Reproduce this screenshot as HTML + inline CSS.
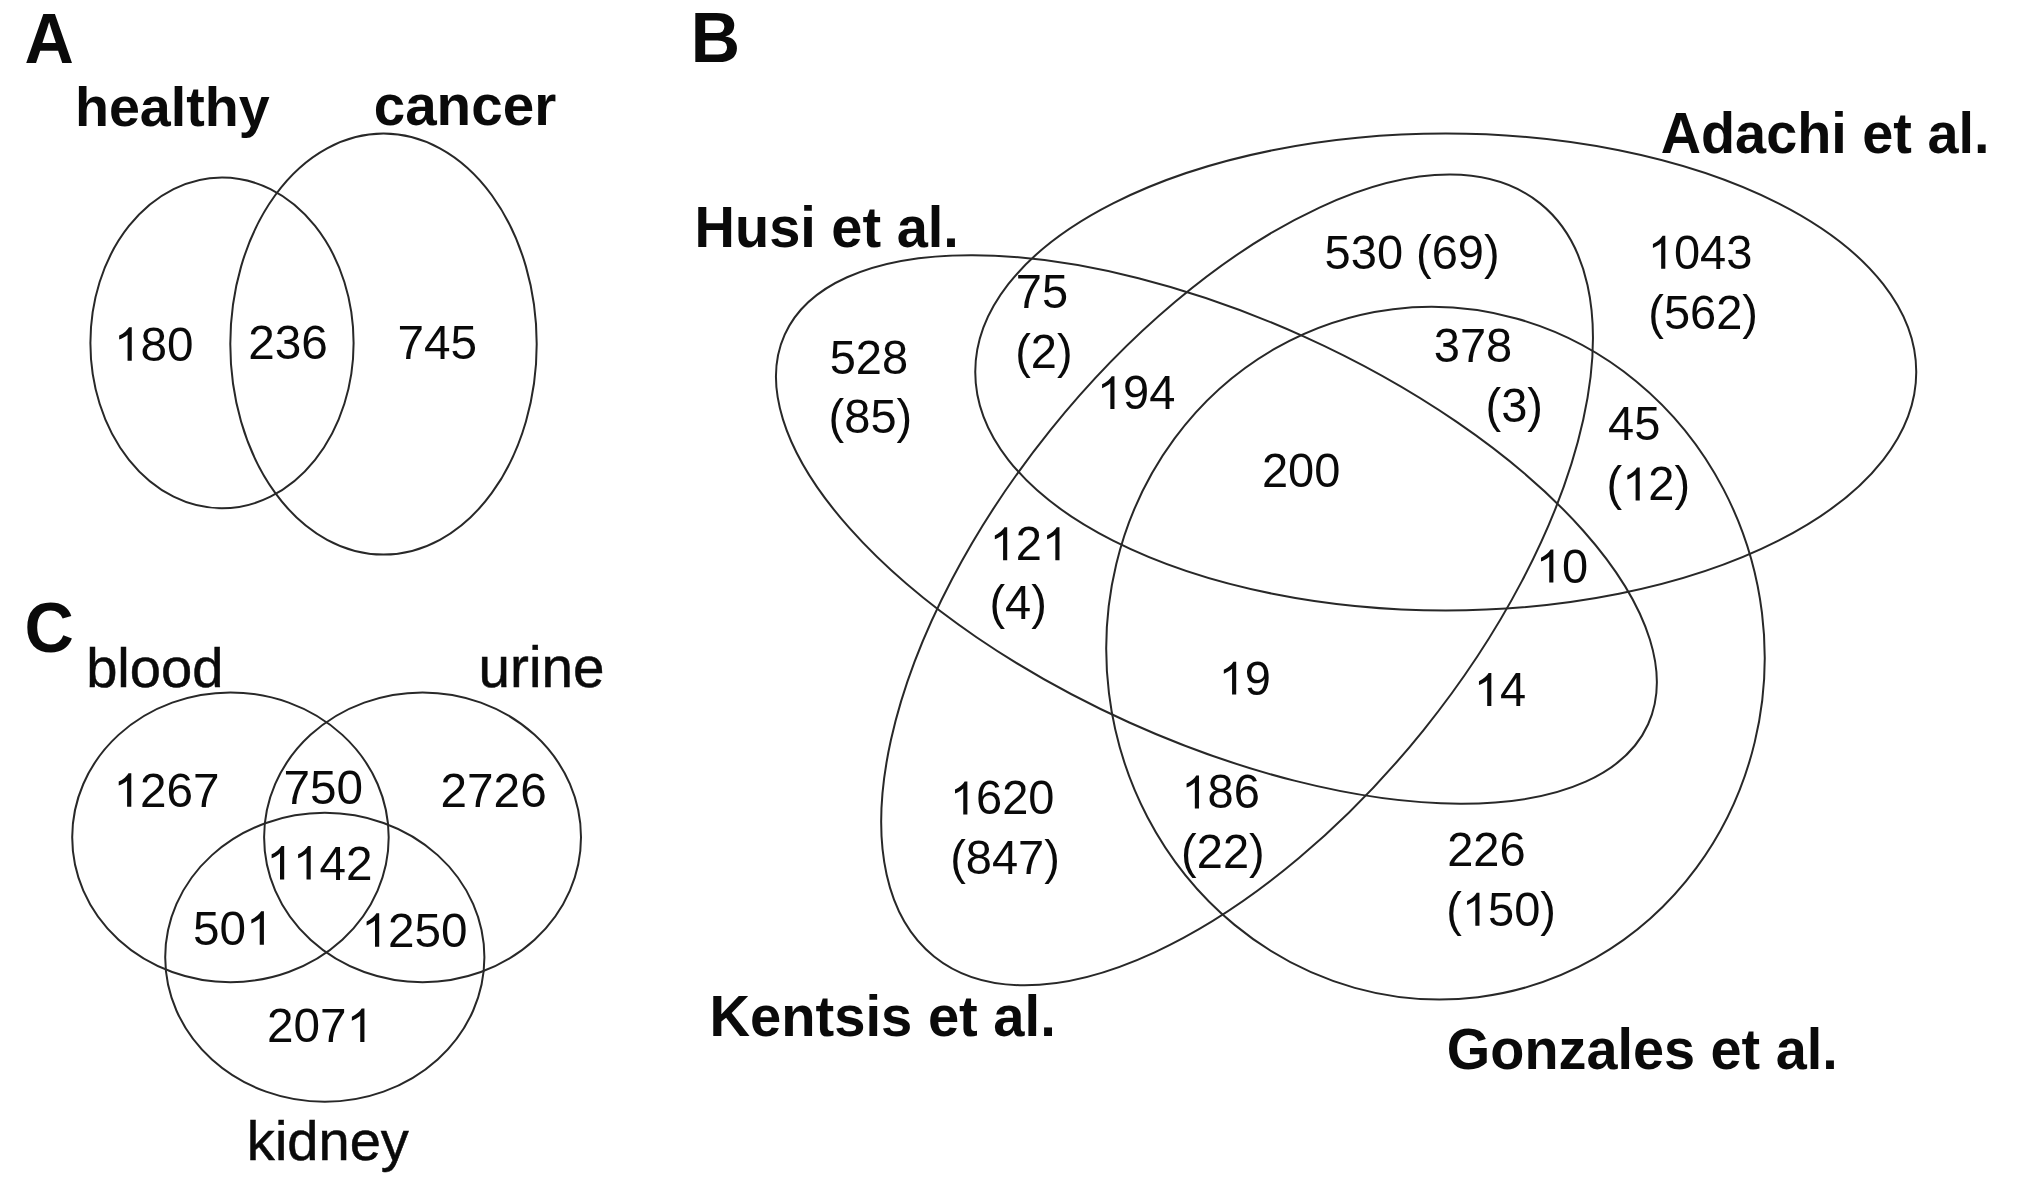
<!DOCTYPE html>
<html><head><meta charset="utf-8"><title>Venn diagrams</title>
<style>
html,body{margin:0;padding:0;background:#fff;}
body{width:2031px;height:1190px;overflow:hidden;}
svg{display:block;filter:grayscale(1);}
text{font-family:"Liberation Sans",sans-serif;fill:#0a0a0a;font-kerning:none;white-space:pre;}
path.g{fill:#0a0a0a;stroke:none;}
text.r{stroke:#0a0a0a;stroke-width:0.5px;}
ellipse{fill:none;stroke:#282828;stroke-width:2.0;}
</style></head><body>
<svg width="2031" height="1190" viewBox="0 0 2031 1190">
<rect x="0" y="0" width="2031" height="1190" fill="#ffffff"/>
<ellipse cx="222" cy="342.9" rx="131.6" ry="165.4"/>
<ellipse cx="383.5" cy="344.1" rx="153.2" ry="210.5"/>
<ellipse cx="230.45" cy="837.3" rx="158.25" ry="144.85"/>
<ellipse cx="422.55" cy="837.3" rx="158.45" ry="144.9"/>
<ellipse cx="324.8" cy="957.3" rx="159.6" ry="144.5"/>
<ellipse cx="1445.75" cy="372" rx="470.5" ry="238.5"/>
<ellipse cx="1216.41" cy="529.45" rx="473.63" ry="211.79" transform="rotate(24.29 1216.41 529.45)"/>
<ellipse cx="1237.07" cy="579.94" rx="483.35" ry="239.39" transform="rotate(-51.174 1237.07 579.94)"/>
<ellipse cx="1435.48" cy="653.17" rx="328.97" ry="346.61" transform="rotate(-7.03 1435.48 653.17)"/>
<text transform="translate(24.56 62.80) scale(1 1.035)" font-size="68.3" font-weight="bold">A</text>
<text transform="translate(690.78 61.70) scale(1 1.035)" font-size="68.3" font-weight="bold">B</text>
<text transform="translate(24.45 652.15) scale(1 1.035)" font-size="68.3" font-weight="bold">C</text>
<text transform="translate(74.90 125.60) scale(1 1)" font-size="55.6788" font-weight="bold">healthy</text>
<text transform="translate(373.67 125.10) scale(1 1)" font-size="56.6" font-weight="bold">cancer</text>
<text class="r" transform="translate(86.15 686.70) scale(1 1)" font-size="56.1555" font-weight="normal">blood</text>
<text class="r" transform="translate(478.57 687.20) scale(1 1)" font-size="56.6" font-weight="normal">urine</text>
<text class="r" transform="translate(246.86 1160.00) scale(1 1)" font-size="56.0638" font-weight="normal">kidney</text>
<text transform="translate(694.56 246.90) scale(1 1.02)" font-size="55.9695" font-weight="bold">Husi et al.</text>
<text transform="translate(1660.70 153.20) scale(1 1.02)" font-size="55.824" font-weight="bold">Adachi et al.</text>
<text transform="translate(709.55 1036.00) scale(1 1.02)" font-size="56.1392" font-weight="bold">Kentsis et al.</text>
<text transform="translate(1446.87 1069.40) scale(1 1.02)" font-size="55.8231" font-weight="bold">Gonzales et al.</text>
<path class="g" transform="translate(113.98 360.80) scale(47.7 -48.654)" d="M0.3726 0 H0.2847 V0.5379 Q0.2529 0.5089 0.2014 0.4798 T0.1089 0.4362 V0.5178 Q0.1821 0.5508 0.2368 0.598 T0.3145 0.6875 H0.3726 Z"/>
<text transform="translate(140.51 360.80) scale(1 1.02)" font-size="47.7">80</text>
<text transform="translate(248.31 358.70) scale(1 1.02)" font-size="47.7">236</text>
<text transform="translate(397.39 358.60) scale(1 1.02)" font-size="47.7">745</text>
<path class="g" transform="translate(113.52 806.80) scale(47.7 -48.654)" d="M0.3726 0 H0.2847 V0.5379 Q0.2529 0.5089 0.2014 0.4798 T0.1089 0.4362 V0.5178 Q0.1821 0.5508 0.2368 0.598 T0.3145 0.6875 H0.3726 Z"/>
<text transform="translate(140.04 806.80) scale(1 1.02)" font-size="47.7">267</text>
<text transform="translate(283.43 804.40) scale(1 1.02)" font-size="47.7">750</text>
<text transform="translate(440.59 806.70) scale(1 1.02)" font-size="47.7">2726</text>
<path class="g" transform="translate(266.42 879.50) scale(47.7 -48.654)" d="M0.3726 0 H0.2847 V0.5379 Q0.2529 0.5089 0.2014 0.4798 T0.1089 0.4362 V0.5178 Q0.1821 0.5508 0.2368 0.598 T0.3145 0.6875 H0.3726 Z"/>
<path class="g" transform="translate(292.94 879.50) scale(47.7 -48.654)" d="M0.3726 0 H0.2847 V0.5379 Q0.2529 0.5089 0.2014 0.4798 T0.1089 0.4362 V0.5178 Q0.1821 0.5508 0.2368 0.598 T0.3145 0.6875 H0.3726 Z"/>
<text transform="translate(319.47 879.50) scale(1 1.02)" font-size="47.7">42</text>
<text transform="translate(193.08 944.70) scale(1 1.02)" font-size="47.7">50</text>
<path class="g" transform="translate(246.14 944.70) scale(47.7 -48.654)" d="M0.3726 0 H0.2847 V0.5379 Q0.2529 0.5089 0.2014 0.4798 T0.1089 0.4362 V0.5178 Q0.1821 0.5508 0.2368 0.598 T0.3145 0.6875 H0.3726 Z"/>
<path class="g" transform="translate(361.42 946.70) scale(47.7 -48.654)" d="M0.3726 0 H0.2847 V0.5379 Q0.2529 0.5089 0.2014 0.4798 T0.1089 0.4362 V0.5178 Q0.1821 0.5508 0.2368 0.598 T0.3145 0.6875 H0.3726 Z"/>
<text transform="translate(387.95 946.70) scale(1 1.02)" font-size="47.7">250</text>
<text transform="translate(267.08 1041.90) scale(1 1.02)" font-size="47.7">207</text>
<path class="g" transform="translate(346.66 1041.90) scale(47.7 -48.654)" d="M0.3726 0 H0.2847 V0.5379 Q0.2529 0.5089 0.2014 0.4798 T0.1089 0.4362 V0.5178 Q0.1821 0.5508 0.2368 0.598 T0.3145 0.6875 H0.3726 Z"/>
<text transform="translate(829.63 374.10) scale(1 1.02)" font-size="47">528</text>
<text transform="translate(828.62 433.20) scale(1 1.02)" font-size="47">(85)</text>
<text transform="translate(1015.84 308.10) scale(1 1.02)" font-size="47">75</text>
<text transform="translate(1015.19 368.20) scale(1 1.02)" font-size="47">(2)</text>
<path class="g" transform="translate(1096.96 409.10) scale(47 -47.94)" d="M0.3726 0 H0.2847 V0.5379 Q0.2529 0.5089 0.2014 0.4798 T0.1089 0.4362 V0.5178 Q0.1821 0.5508 0.2368 0.598 T0.3145 0.6875 H0.3726 Z"/>
<text transform="translate(1123.09 409.10) scale(1 1.02)" font-size="47">94</text>
<text transform="translate(1324.61 269.00) scale(1 1.02)" font-size="47">530 (69)</text>
<path class="g" transform="translate(1647.79 268.80) scale(47 -47.94)" d="M0.3726 0 H0.2847 V0.5379 Q0.2529 0.5089 0.2014 0.4798 T0.1089 0.4362 V0.5178 Q0.1821 0.5508 0.2368 0.598 T0.3145 0.6875 H0.3726 Z"/>
<text transform="translate(1673.93 268.80) scale(1 1.02)" font-size="47">043</text>
<text transform="translate(1648.25 328.70) scale(1 1.02)" font-size="47">(562)</text>
<text transform="translate(1433.79 362.20) scale(1 1.02)" font-size="47">378</text>
<text transform="translate(1485.49 421.90) scale(1 1.02)" font-size="47">(3)</text>
<text transform="translate(1608.00 440.20) scale(1 1.02)" font-size="47">45</text>
<text transform="translate(1606.57 500.40) scale(1 1.02)" font-size="47">(</text>
<path class="g" transform="translate(1622.22 500.40) scale(47 -47.94)" d="M0.3726 0 H0.2847 V0.5379 Q0.2529 0.5089 0.2014 0.4798 T0.1089 0.4362 V0.5178 Q0.1821 0.5508 0.2368 0.598 T0.3145 0.6875 H0.3726 Z"/>
<text transform="translate(1648.36 500.40) scale(1 1.02)" font-size="47">2)</text>
<text transform="translate(1261.92 487.40) scale(1 1.02)" font-size="47">200</text>
<path class="g" transform="translate(989.70 560.20) scale(47 -47.94)" d="M0.3726 0 H0.2847 V0.5379 Q0.2529 0.5089 0.2014 0.4798 T0.1089 0.4362 V0.5178 Q0.1821 0.5508 0.2368 0.598 T0.3145 0.6875 H0.3726 Z"/>
<text transform="translate(1015.83 560.20) scale(1 1.02)" font-size="47">2</text>
<path class="g" transform="translate(1041.97 560.20) scale(47 -47.94)" d="M0.3726 0 H0.2847 V0.5379 Q0.2529 0.5089 0.2014 0.4798 T0.1089 0.4362 V0.5178 Q0.1821 0.5508 0.2368 0.598 T0.3145 0.6875 H0.3726 Z"/>
<text transform="translate(989.39 618.90) scale(1 1.02)" font-size="47">(4)</text>
<path class="g" transform="translate(1535.86 582.50) scale(47 -47.94)" d="M0.3726 0 H0.2847 V0.5379 Q0.2529 0.5089 0.2014 0.4798 T0.1089 0.4362 V0.5178 Q0.1821 0.5508 0.2368 0.598 T0.3145 0.6875 H0.3726 Z"/>
<text transform="translate(1562.00 582.50) scale(1 1.02)" font-size="47">0</text>
<path class="g" transform="translate(1218.69 694.60) scale(47 -47.94)" d="M0.3726 0 H0.2847 V0.5379 Q0.2529 0.5089 0.2014 0.4798 T0.1089 0.4362 V0.5178 Q0.1821 0.5508 0.2368 0.598 T0.3145 0.6875 H0.3726 Z"/>
<text transform="translate(1244.83 694.60) scale(1 1.02)" font-size="47">9</text>
<path class="g" transform="translate(1473.83 706.00) scale(47 -47.94)" d="M0.3726 0 H0.2847 V0.5379 Q0.2529 0.5089 0.2014 0.4798 T0.1089 0.4362 V0.5178 Q0.1821 0.5508 0.2368 0.598 T0.3145 0.6875 H0.3726 Z"/>
<text transform="translate(1499.96 706.00) scale(1 1.02)" font-size="47">4</text>
<path class="g" transform="translate(949.87 814.40) scale(47 -47.94)" d="M0.3726 0 H0.2847 V0.5379 Q0.2529 0.5089 0.2014 0.4798 T0.1089 0.4362 V0.5178 Q0.1821 0.5508 0.2368 0.598 T0.3145 0.6875 H0.3726 Z"/>
<text transform="translate(976.01 814.40) scale(1 1.02)" font-size="47">620</text>
<text transform="translate(950.15 873.90) scale(1 1.02)" font-size="47">(847)</text>
<path class="g" transform="translate(1181.46 808.40) scale(47 -47.94)" d="M0.3726 0 H0.2847 V0.5379 Q0.2529 0.5089 0.2014 0.4798 T0.1089 0.4362 V0.5178 Q0.1821 0.5508 0.2368 0.598 T0.3145 0.6875 H0.3726 Z"/>
<text transform="translate(1207.60 808.40) scale(1 1.02)" font-size="47">86</text>
<text transform="translate(1181.12 868.20) scale(1 1.02)" font-size="47">(22)</text>
<text transform="translate(1447.19 866.20) scale(1 1.02)" font-size="47">226</text>
<text transform="translate(1446.30 925.80) scale(1 1.02)" font-size="47">(</text>
<path class="g" transform="translate(1461.95 925.80) scale(47 -47.94)" d="M0.3726 0 H0.2847 V0.5379 Q0.2529 0.5089 0.2014 0.4798 T0.1089 0.4362 V0.5178 Q0.1821 0.5508 0.2368 0.598 T0.3145 0.6875 H0.3726 Z"/>
<text transform="translate(1488.09 925.80) scale(1 1.02)" font-size="47">50)</text>
</svg></body></html>
